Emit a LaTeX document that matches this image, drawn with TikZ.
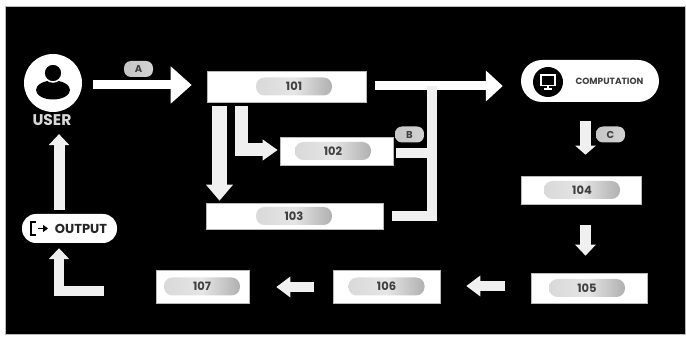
\documentclass[tikz,border=0pt]{standalone}
\usepackage{fontspec}
\setmainfont{Poppins}
\usetikzlibrary{arrows.meta}
\definecolor{pale}{gray}{0.94}
\definecolor{edge}{gray}{0.72}
\tikzset{
	boxnode/.style={fill=white,draw=edge,line width=0.6pt,inner sep=0pt},
	pillnode/.style={rounded corners=8.5pt,left color=gray!30,right color=gray!62,middle color=gray!20,inner sep=0pt,minimum width=76pt,minimum height=18pt,font=\bfseries\fontsize{11.5}{11.5}\selectfont,text=black!75},
	tagnode/.style={rounded corners=7pt,left color=gray!45,right color=gray!35,inner sep=0pt,minimum width=29pt,minimum height=16pt,font=\bfseries\fontsize{10}{10}\selectfont,text=black!75},
	blockarrow/.style={draw=pale,line width=#1,miter limit=10},
	blockarrow/.default=10pt,
	smallhead/.style={-{Triangle[length=#1,width=20pt,fill=pale]}}
}
\begin{document}
\begin{tikzpicture}[x=1pt,y=-1pt,line join=miter]
	\useasboundingbox (0,0) rectangle (686,339);
	\fill[white] (0,0) rectangle (686,339);
	\fill[black,draw=edge,line width=1pt] (5.5,6.5) rectangle (685,335);
	% boxes with their numbered pills
	\foreach \n/\cx/\cy/\w/\h/\px in {101/286.5/86.5/159/31/294,102/336.5/151/113/28/333,103/294.5/216/177/26/294,104/581/190/120/28/582,105/589/288/116/30/587,106/386.5/286.5/107/33/386.5,107/202.5/286.5/93/33/202}
	{
		\node[boxnode,minimum width=\w pt,minimum height=\h pt] (box\n) at (\cx,\cy) {};
		\node[pillnode] (pill\n) at (\px,\cy) {\n};
	}
	% user
	\node[circle,fill=white,minimum size=58pt,inner sep=0pt] (user) at (53,83) {};
	\fill[black] (53,90) ellipse (17pt and 9.5pt);
	\fill[black,draw=white,line width=1.5pt] (53,73) circle (9pt);
	\node[text=white!85!black,font=\bfseries\fontsize{15.5}{15.5}\selectfont] (userlabel) at (52,120) {USER};
	% computation
	\node[rounded corners=21pt,fill=white,minimum width=138pt,minimum height=42pt,inner sep=0pt] (comp) at (590,81) {};
	\node[circle,fill=black,minimum size=30pt,inner sep=0pt] (compicon) at (548,82) {};
	\draw[white,line width=1.6pt] (541,75) rectangle (555,85.5);
	\draw[white,line width=1.6pt] (548,85.5)--(548,89) (544,89)--(552,89);
	\node[text=black!75,font=\bfseries\fontsize{9}{9}\selectfont] (complabel) at (609.5,81) {COMPUTATION};
	% output
	\node[rounded corners=14pt,fill=white,minimum width=95pt,minimum height=29pt,inner sep=0pt] (output) at (69.5,228.5) {};
	\draw[black,line width=2.4pt] (36,222)--(31,222)--(31,235)--(36,235);
	\draw[black,line width=1.8pt,-{Triangle[length=5pt,width=7pt]}] (38,228.5)--(48,228.5);
	\node[text=black!85,font=\bfseries\fontsize{13}{13}\selectfont] (outlabel) at (81,228.5) {OUTPUT};
	% tags
	\node[tagnode] (taga) at (138.5,69) {A};
	\node[tagnode] (tagb) at (409.5,134.5) {B};
	\node[tagnode] (tagc) at (610.5,134.5) {C};
	% free ends
	\coordinate (startuser) at (93,85);
	\coordinate (startcomp) at (375,86);
	\coordinate (trunktop) at (432,86);
	\coordinate (trunkend) at (432,216.5);
	\coordinate (stubc) at (392,216.5);
	\coordinate (stubb) at (396,153);
	\coordinate (bend) at (241,150);
	\coordinate (start102) at (241,106);
	\coordinate (start103) at (219.5,106);
	\coordinate (start104) at (585.5,121);
	\coordinate (start105) at (585.5,225);
	\coordinate (start106) at (505,286);
	\coordinate (start107) at (314,287);
	\coordinate (startup) at (59,210);
	\coordinate (startout) at (104,291);
	\coordinate (corner) at (59,291);
	% connectors
	\draw[blockarrow=9pt,white,-{Triangle[length=21pt,width=36pt,fill=white]},shorten >=15pt] (startuser)--(startuser -| box101.west);
	\draw[blockarrow=9pt,white,-{Triangle[length=17pt,width=30pt,fill=white]},shorten >=18pt] (startcomp)--(startcomp -| comp.west);
	\draw[blockarrow=10pt] (trunktop)--(trunkend)--(stubc);
	\draw[blockarrow=10pt] (stubb)--(stubb -| trunktop);
	\draw[blockarrow=15pt,-{Triangle[length=16pt,width=26pt,fill=pale]},shorten >=2pt] (start103)--(start103 |- box103.north);
	\draw[blockarrow=13pt,-{Triangle[length=15pt,width=20pt,fill=pale]},shorten >=2pt] (start102)--(bend)--(bend -| box102.west);
	\draw[blockarrow=11pt,smallhead=9pt,shorten >=21pt] (start104)--(start104 |- box104.north);
	\draw[blockarrow=11pt,smallhead=11pt,shorten >=17pt] (start105)--(start105 |- box105.north);
	\draw[blockarrow=10pt,smallhead=14pt,shorten >=26pt] (start106)--(start106 -| box106.east);
	\draw[blockarrow=10pt,smallhead=14pt,shorten >=27pt] (start107)--(start107 -| box107.east);
	\draw[blockarrow=11pt,smallhead=11pt,shorten >=5pt] (startup)--(startup |- userlabel.south);
	\draw[blockarrow=10pt,smallhead=11pt,shorten >=5pt] (startout)--(corner)--(corner |- output.south);
\end{tikzpicture}
\end{document}
